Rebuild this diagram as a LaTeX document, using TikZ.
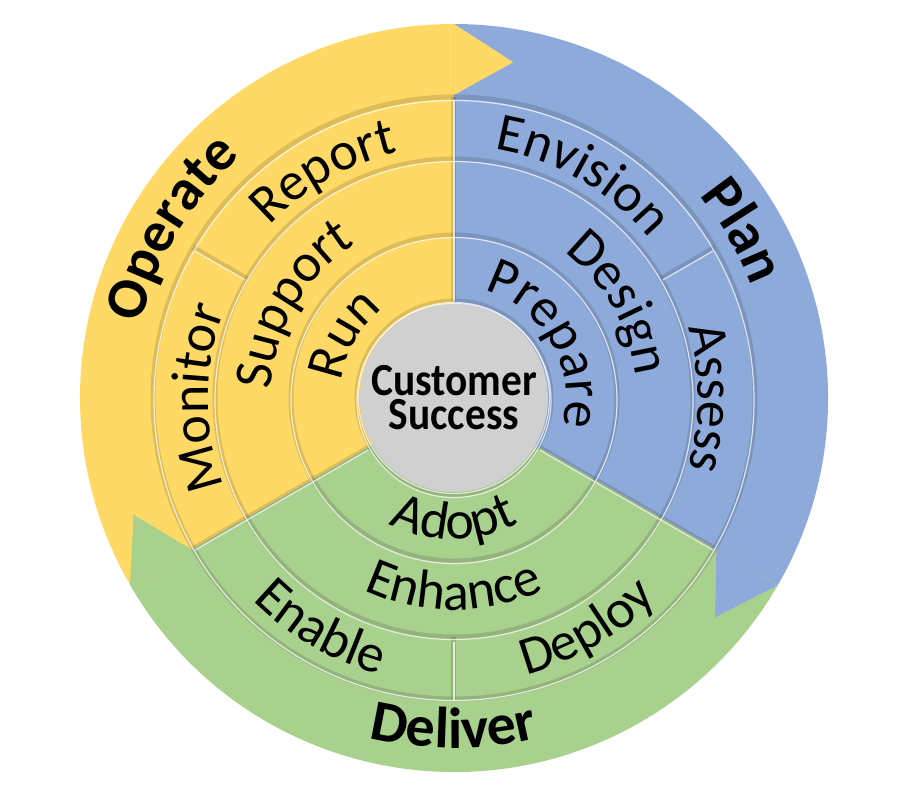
\documentclass[tikz,border=0pt]{standalone}
\usepackage{fontspec}
\setmainfont{Carlito}
\usepackage{tikz}
\usetikzlibrary{decorations.text}
\definecolor{cOperate}{RGB}{255,217,102}
\definecolor{cPlan}{RGB}{142,170,219}
\definecolor{cDeliver}{RGB}{169,209,142}
\definecolor{cHub}{RGB}{208,208,208}
\newcommand{\lblfont}{\fontsize{54}{54}\selectfont}
\newcommand{\phasefont}{\fontsize{58}{58}\selectfont\bfseries}
\tikzset{
	groove/.style={draw=black, draw opacity=0.13, line width=5pt},
	shine/.style ={draw=white, draw opacity=0.75, line width=1.2pt},
	hub/.style   ={circle, fill=cHub, minimum size=188pt, inner sep=0pt, align=center,
	               font=\fontsize{46}{34}\selectfont\bfseries\addfontfeatures{FakeStretch=0.9}},
}
% text on an arc: radius, centre angle, half span, text
\newcommand{\cwlabel}[4]{%
	\path[decorate, decoration={text along path, text align=center, text={#4}}]
		({#2+#3}:#1pt) arc[start angle={#2+#3}, end angle={#2-#3}, radius=#1pt];}
\newcommand{\ccwlabel}[4]{%
	\path[decorate, decoration={text along path, text align=center, text={#4}}]
		({#2-#3}:#1pt) arc[start angle={#2-#3}, end angle={#2+#3}, radius=#1pt];}

\begin{document}
\begin{tikzpicture}[x=1pt, y=1pt]
	\useasboundingbox (-454,-402) rectangle (446,398);
	% outer bands
	\fill[cOperate] (0,0) -- (90:374) arc[start angle=90, end angle=210, radius=374pt] -- cycle;
	\fill[cPlan] (0,0) -- (-30:374) arc[start angle=-30, end angle=90, radius=374pt] -- cycle;
	\fill[cDeliver] (0,0) -- (210:374) arc[start angle=210, end angle=330, radius=374pt] -- cycle;
	% arrow heads
	\fill[cOperate] (90:303) -- (80:341) -- (90:374) -- cycle;
	\fill[cPlan] (330:303) -- (320:341) -- (330:374) -- cycle;
	\fill[cDeliver] (210:303) -- (200:341) -- (210:374) -- cycle;
	% tile grooves
	\foreach \r in {97,163,239,301}
		\draw[groove] (0,0) circle[radius=\r pt];
	\foreach \a in {90,210,330}
		\draw[groove] (\a:97) -- (\a:301);
	\foreach \a in {30,150,270}
		\draw[groove] (\a:239) -- (\a:301);
	\foreach \r in {97,163,239,300}
		\draw[shine] (0,-2.5) circle[radius=\r pt];
	\foreach \a in {90,210,330}
		\draw[shine] ([yshift=-2.5pt]\a:99) -- ([yshift=-2.5pt]\a:299);
	\foreach \a in {30,150,270}
		\draw[shine] ([yshift=-2.5pt]\a:241) -- ([yshift=-2.5pt]\a:299);
	% centre
	\node[hub] (hub) at (0,0) {Customer\\Success};
	\draw[shine] (hub.center) circle[radius=95.5pt];
	% Operate
	\cwlabel{252}{120}{30}{|\lblfont|Report}
	\cwlabel{246}{180}{30}{|\lblfont|Monitor}
	\cwlabel{183}{150}{55}{|\lblfont|Support}
	\cwlabel{114}{150}{55}{|\lblfont|Run}
	\cwlabel{322}{149}{50}{|\phasefont|Operate}
	% Plan
	\cwlabel{252}{60}{30}{|\lblfont|Envision}
	\cwlabel{244}{0}{30}{|\lblfont|Assess}
	\cwlabel{183}{30}{55}{|\lblfont|Design}
	\cwlabel{112}{30}{55}{|\lblfont|Prepare}
	\cwlabel{318}{30}{40}{|\phasefont|Plan}
	% Deliver
	\ccwlabel{141}{270}{55}{|\lblfont|Adopt}
	\ccwlabel{212}{270}{55}{|\lblfont|Enhance}
	\ccwlabel{286}{240}{30}{|\lblfont|Enable}
	\ccwlabel{286}{300}{30}{|\lblfont|Deploy}
	\ccwlabel{350}{270}{50}{|\phasefont|Deliver}
\end{tikzpicture}
\end{document}
